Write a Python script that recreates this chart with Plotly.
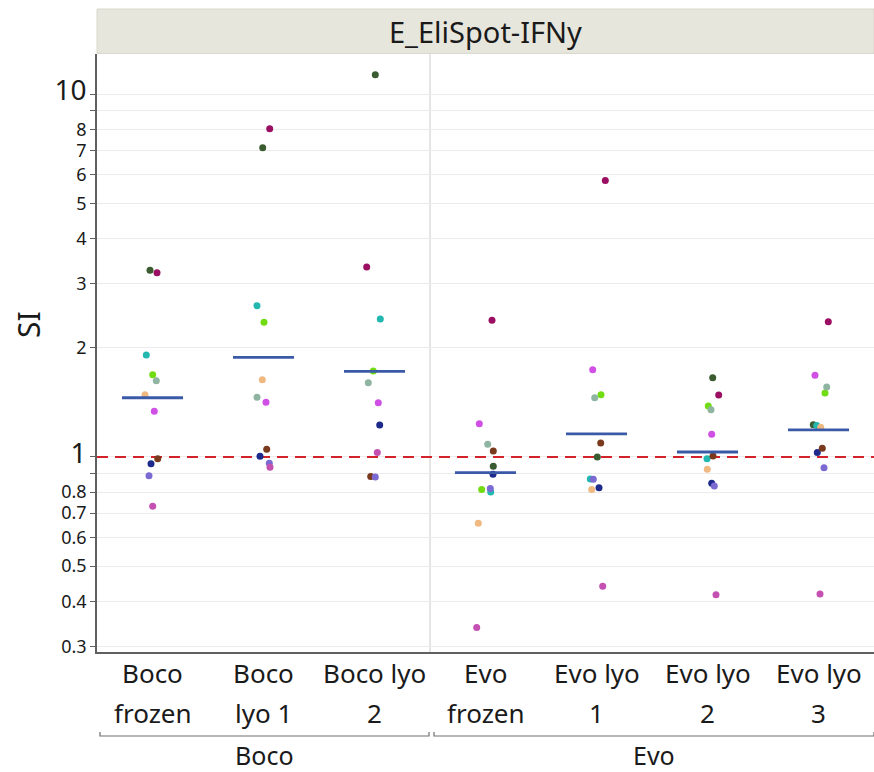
import math
import plotly.graph_objects as go

# ---------------- data ----------------
categories = ["Boco frozen", "Boco lyo 1", "Boco lyo 2", "Evo frozen",
              "Evo lyo 1", "Evo lyo 2", "Evo lyo 3"]
tick_top = ["Boco", "Boco", "Boco lyo", "Evo", "Evo lyo", "Evo lyo", "Evo lyo"]
tick_bottom = ["frozen", "lyo 1", "2", "frozen", "1", "2", "3"]
groups = ["Boco", "Evo"]
group_members = [[0, 1, 2], [3, 4, 5, 6]]

subject_colors = ["#3b5b30", "#9a0f62", "#22b8b0", "#72dc12", "#8fb5a2", "#f0b982",
                  "#d050e6", "#1d2a8c", "#7a3a1e", "#7a6ad2", "#c451b2"]

# SI values per subject, one per category (None = missing)
si_values = [
    [3.27, 7.11, 11.3, 0.943, 1.00, 1.654, 1.227],
    [3.22, 8.03, 3.34, 2.38, 5.78, 1.482, 2.36],
    [1.91, 2.61, 2.40, 0.801, 0.870, 0.989, 1.22],
    [1.686, 2.35, 1.725, 0.813, 1.485, 1.382, 1.501],
    [1.623, 1.46, 1.602, 1.084, 1.457, 1.350, 1.559],
    [1.485, 1.633, None, 0.657, 0.813, 0.925, 1.207],
    [1.336, 1.415, 1.411, 1.235, 1.740, 1.155, 1.679],
    [0.958, 1.004, 1.225, 0.896, 0.823, 0.846, 1.028],
    [0.989, 1.050, 0.883, 1.039, 1.093, 1.006, 1.057],
    [0.888, 0.961, 0.881, 0.818, 0.868, 0.832, 0.933],
    [0.731, 0.936, 1.028, 0.339, 0.440, 0.417, 0.419],
]
# horizontal jitter of each point, in pixels of the original picture
jitter_px = [
    [-2.5, -0.8, 0.8, 7.8, 0.8, 5.2, -5.2],
    [4.5, 6.2, -7.8, 6.5, 8.8, 11.2, 9.8],
    [-6.2, -6.5, 5.8, 5.2, -6.2, -0.5, -1.8],
    [0.2, 0.5, -1.2, -3.8, 4.5, 0.8, 6.5],
    [3.8, -6.5, -6.2, 2.2, -1.8, 3.5, 8.2],
    [-7.5, -1.2, 0.0, -7.2, -4.8, -0.2, 2.2],
    [1.8, 2.5, 3.8, -6.2, -3.8, 4.2, -3.5],
    [-1.5, -3.5, 5.2, 7.5, 2.5, 4.2, -1.2],
    [5.2, 3.2, -3.8, 7.8, 4.2, 5.5, 3.8],
    [-3.5, 5.8, 0.8, 4.8, -3.2, 6.8, 5.5],
    [0.2, 6.5, 2.8, -8.8, 6.2, 8.5, 1.5],
]
# summary (mean) line per category
mean_values = [1.456, 1.882, 1.722, 0.905, 1.157, 1.032, 1.187]
reference_value = 1.0

y_tickvals = [0.3, 0.4, 0.5, 0.6, 0.7, 0.8, 1, 2, 3, 4, 5, 6, 7, 8, 10]
y_ticklabels = ["0.3", "0.4", "0.5", "0.6", "0.7", "0.8", "1", "2", "3", "4",
                "5", "6", "7", "8", "10"]
y_minor = [0.9, 9]
big_labels = ["1", "10"]

# ---------------- styling / layout ----------------
W, H = 874, 772
ML, MR, MT, MB = 97, 0, 54, 120
plot_w = W - ML - MR
plot_h = H - MT - MB
n = len(categories)
cat_px = plot_w / n
FONT = "Noto Sans"
TXT = "#1a1a1a"

fig = go.Figure()

# reference line
fig.add_trace(go.Scatter(
    x=[-0.5, n - 0.5], y=[reference_value, reference_value], mode="lines",
    line=dict(color="#d2232a", width=2, dash="11px,7px"),
    hoverinfo="skip", showlegend=False))

# points
for s, vals in enumerate(si_values):
    xs, ys = [], []
    for c, v in enumerate(vals):
        if v is None:
            continue
        xs.append(c + jitter_px[s][c] / cat_px)
        ys.append(v)
    fig.add_trace(go.Scatter(
        x=xs, y=ys, mode="markers",
        marker=dict(size=7, color=subject_colors[s], line=dict(width=0)),
        showlegend=False))

# mean lines
mx, my = [], []
for c, m in enumerate(mean_values):
    mx += [c - 0.275, c + 0.275, None]
    my += [m, m, None]
fig.add_trace(go.Scatter(
    x=mx, y=my, mode="lines", line=dict(color="#3a5aa8", width=2.8),
    hoverinfo="skip", showlegend=False))

ticktext = []
for t in y_ticklabels:
    if t in big_labels:
        ticktext.append('<span style="font-size:28px">%s</span>' % t)
    else:
        ticktext.append(t)

fig.update_layout(
    width=W, height=H,
    margin=dict(l=ML, r=MR, t=MT, b=MB),
    paper_bgcolor="white", plot_bgcolor="white",
    font=dict(family=FONT, color=TXT),
    xaxis=dict(range=[-0.5, n - 0.5], showticklabels=False, showgrid=False,
               zeroline=False, showline=True, linecolor="#606060", linewidth=1.5,
               ticks=""),
    yaxis=dict(type="log", range=[math.log10(0.29), math.log10(12.9)],
               tickvals=y_tickvals, ticktext=ticktext,
               tickfont=dict(size=18, color=TXT, family=FONT),
               showgrid=True, gridcolor="#ebebeb", gridwidth=1,
               ticks="outside", ticklen=5, tickcolor="#606060",
               showline=True, linecolor="#606060", linewidth=1.5, zeroline=False,
               minor=dict(tickvals=y_minor, ticks="outside", ticklen=5,
                          tickcolor="#606060", showgrid=True, gridcolor="#ebebeb")),
)

shapes = []
# divider between groups
for g in range(len(groups) - 1):
    xdiv = group_members[g][-1] + 0.5
    shapes.append(dict(type="line", xref="x", yref="paper", x0=xdiv, x1=xdiv,
                       y0=0, y1=1, line=dict(color="#d4d4d4", width=1.2), layer="below"))
# header strip
strip_top = 1 + (MT - 9) / plot_h
shapes.append(dict(type="rect", xref="paper", yref="paper", x0=0, x1=1,
                   y0=1.001, y1=strip_top, fillcolor="#e7e6dd",
                   line=dict(color="#d8d7cb", width=1)))
# group brackets
yb = -(736 - (MT + plot_h)) / plot_h
yb_up = yb + 4 / plot_h
annotations = []
for g, members in enumerate(group_members):
    x0 = members[0] - 0.5 + (3 if g == 0 else 4) / cat_px
    x1 = members[-1] + 0.5 - (1 if g < len(groups) - 1 else 0) / cat_px
    shapes.append(dict(type="path", xref="x", yref="paper",
                       path="M %f,%f L %f,%f L %f,%f L %f,%f" % (x0, yb_up, x0, yb, x1, yb, x1, yb_up),
                       line=dict(color="#707070", width=1.2)))
    annotations.append(dict(text=groups[g], xref="x", yref="paper",
                            x=(x0 + x1) / 2, y=-(755 - (MT + plot_h)) / plot_h,
                            showarrow=False, yanchor="middle", xanchor="center",
                            font=dict(size=25, color=TXT, family=FONT)))

# category labels (two lines)
for c in range(n):
    annotations.append(dict(text=tick_top[c], xref="x", yref="paper", x=c,
                            y=-(673 - (MT + plot_h)) / plot_h, showarrow=False,
                            yanchor="middle", xanchor="center",
                            font=dict(size=26, color=TXT, family=FONT)))
    annotations.append(dict(text=tick_bottom[c], xref="x", yref="paper", x=c,
                            y=-(713 - (MT + plot_h)) / plot_h, showarrow=False,
                            yanchor="middle", xanchor="center",
                            font=dict(size=26, color=TXT, family=FONT)))

# strip title
annotations.append(dict(text="E_EliSpot-IFNy", xref="paper", yref="paper", x=0.5,
                        y=(1 + strip_top) / 2, showarrow=False, yanchor="middle",
                        xanchor="center", font=dict(size=29, color=TXT, family=FONT)))
# y title
annotations.append(dict(text="SI", xref="paper", yref="paper", x=0, xshift=28 - ML,
                        y=(MT + plot_h - 325) / plot_h, textangle=-90, showarrow=False,
                        xanchor="center", yanchor="middle",
                        font=dict(size=30, color=TXT, family=FONT)))

fig.update_layout(shapes=shapes, annotations=annotations)
fig.write_html("out.html", config={"displayModeBar": False},
               post_script="document.body.style.margin='0';document.body.style.padding='0';")
